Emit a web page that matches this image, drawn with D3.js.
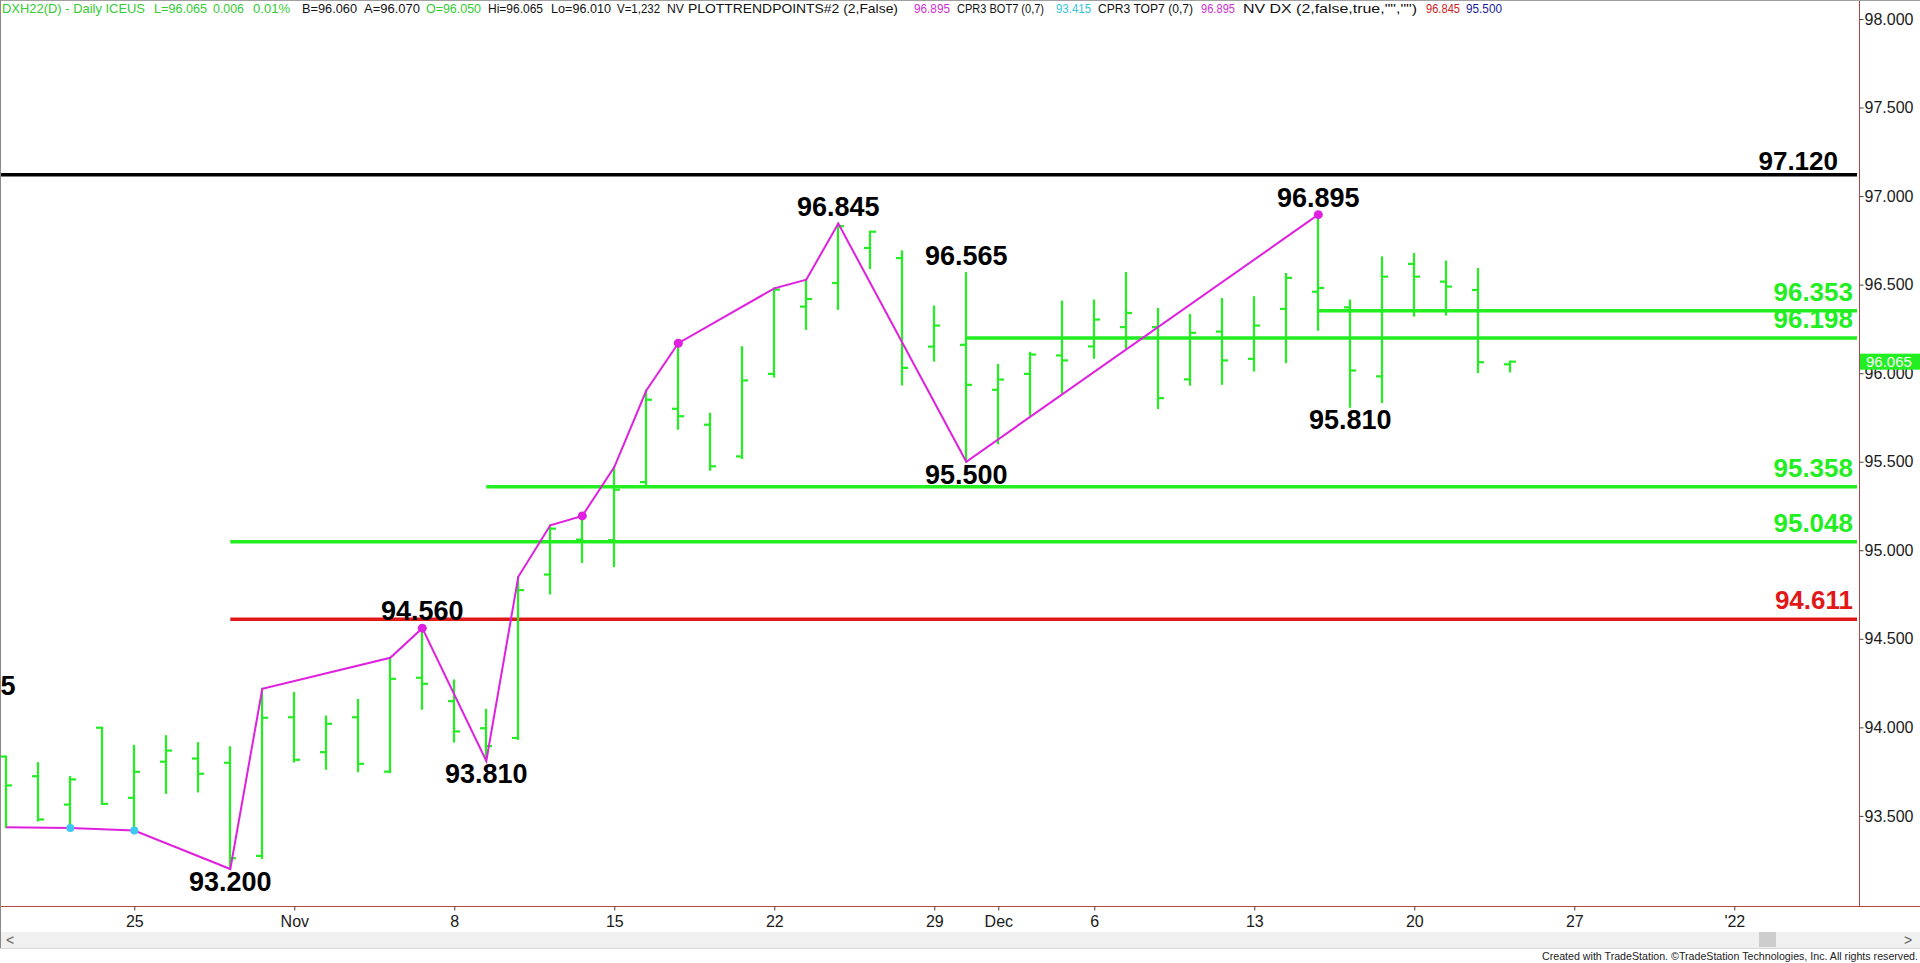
<!DOCTYPE html>
<html><head><meta charset="utf-8">
<script src="https://cdn.jsdelivr.net/npm/d3@7"></script>
<style>
html,body{margin:0;padding:0;background:#fff;overflow:hidden;}
svg{display:block;font-family:"Liberation Sans",Arial,sans-serif;}
</style></head><body>
<svg id="chart" width="1920" height="963"></svg>
<script>
// ---------- DATA ----------
const barDates = [
 "2021-10-19","2021-10-20","2021-10-21","2021-10-22",
 "2021-10-25","2021-10-26","2021-10-27","2021-10-28","2021-10-29",
 "2021-11-01","2021-11-02","2021-11-03","2021-11-04","2021-11-05",
 "2021-11-08","2021-11-09","2021-11-10","2021-11-11","2021-11-12",
 "2021-11-15","2021-11-16","2021-11-17","2021-11-18","2021-11-19",
 "2021-11-22","2021-11-23","2021-11-24","2021-11-25","2021-11-26",
 "2021-11-29","2021-11-30","2021-12-01","2021-12-02","2021-12-03",
 "2021-12-06","2021-12-07","2021-12-08","2021-12-09","2021-12-10",
 "2021-12-13","2021-12-14","2021-12-15","2021-12-16","2021-12-17",
 "2021-12-20","2021-12-21","2021-12-22","2021-12-23"];
const opens = [
 93.835,93.724,93.564,93.998,
 93.602,93.806,93.824,93.800,93.274,
 94.057,93.860,94.057,93.750,94.280,
 94.148,93.995,93.940,94.863,95.060,
 95.057,95.385,95.799,95.709,95.530,
 95.996,96.376,96.509,96.707,96.650,
 96.150,96.160,95.906,95.996,96.100,
 96.151,96.260,96.260,95.965,96.235,
 96.081,96.363,96.460,96.372,95.982,
 96.617,96.517,96.470,96.050];
const highs = [
 93.835,93.798,93.719,93.998,
 93.896,93.950,93.911,93.888,94.218,
 94.195,94.061,94.155,94.393,94.560,
 94.265,94.099,94.850,95.141,95.194,
 95.470,95.902,96.169,95.771,96.147,
 96.479,96.528,96.845,96.799,96.688,
 96.376,96.565,96.047,96.115,96.404,
 96.410,96.566,96.363,96.329,96.419,
 96.429,96.560,96.895,96.410,96.654,
 96.673,96.630,96.588,96.065];
const lows = [
 93.436,93.474,93.431,93.568,
 93.417,93.630,93.638,93.200,93.262,
 93.807,93.766,93.752,93.747,94.105,
 93.920,93.810,93.935,94.756,94.934,
 94.910,95.367,95.686,95.455,95.521,
 95.981,96.250,96.363,96.594,95.936,
 96.071,95.500,95.605,95.765,95.890,
 96.087,96.143,95.803,95.935,95.940,
 96.015,96.062,96.245,95.810,95.837,
 96.325,96.331,96.006,96.010];
const closes = [
 93.672,93.480,93.706,93.568,
 93.749,93.869,93.738,93.261,94.054,
 93.817,94.020,93.794,94.274,94.246,
 93.977,93.894,94.775,95.122,95.050,
 95.342,95.850,95.757,95.474,95.959,
 96.472,96.419,96.830,96.799,96.030,
 96.269,95.934,95.964,96.105,96.072,
 96.303,96.340,95.859,96.228,96.072,
 96.269,96.538,96.481,96.015,96.545,
 96.545,96.489,96.062,96.065];

// trend-point path (PLOTTRENDPOINTS)
const trendDates = ["2021-10-19","2021-10-21","2021-10-25","2021-10-28","2021-10-29",
 "2021-11-04","2021-11-05","2021-11-09","2021-11-10","2021-11-11","2021-11-12",
 "2021-11-15","2021-11-16","2021-11-17","2021-11-22","2021-11-23","2021-11-24",
 "2021-11-30","2021-12-15"];
const trendKinds = ["L","L","L","L","H","H","H","L","H","H","H","H","H","H","H","H","H","L","H"];
const magentaDotDates = ["2021-11-05","2021-11-12","2021-11-17","2021-12-15"];
const cyanDotDates = ["2021-10-21","2021-10-25"];

// swing labels
const labelDates  = ["2021-10-18","2021-10-28","2021-11-05","2021-11-09","2021-11-24","2021-11-30","2021-11-30","2021-12-15","2021-12-16"];
const labelKinds  = ["H","L","H","L","H","H","L","H","L"];
const labelValues = [94.135,93.200,94.560,93.810,96.845,96.565,95.500,96.895,95.810];

// horizontal levels
const levelValues = [97.120,96.353,96.198,95.358,95.048,94.611];
const levelStarts = [null,"2021-12-15","2021-11-30","2021-11-09","2021-10-28","2021-10-28"];

// axes
const yTicks = [93.5,94.0,94.5,95.0,95.5,96.0,96.5,97.0,97.5,98.0];
const tickDates  = ["2021-10-25","2021-11-01","2021-11-08","2021-11-15","2021-11-22","2021-11-29","2021-12-01","2021-12-06","2021-12-13","2021-12-20","2021-12-27","2022-01-03"];
const tickLabels = ["25","Nov","8","15","22","29","Dec","6","13","20","27","'22"];
const lastPrice = 96.065;

// header
const headerTexts = ["DXH22(D) - Daily ICEUS","L=96.065","0.006","0.01%","B=96.060","A=96.070","O=96.050",
 "Hi=96.065","Lo=96.010","V=1,232","NV","PLOTTRENDPOINTS#2 (2,False)","96.895","CPR3 BOT7 (0,7)","93.415",
 "CPR3 TOP7 (0,7)","96.895","NV DX (2,false,true,\"\",\"\")","96.845","95.500"];

// ---------- STYLE / LAYOUT ----------
const GREEN="#22ee22", RED="#e01818", MAG="#e020e0", CYAN="#3cc8f0";
const levelColors = ["#000000",GREEN,GREEN,GREEN,GREEN,RED];
const headerColors = ["#33cc33","#33cc33","#33cc33","#33cc33","#111","#111","#33cc33","#111","#111","#111","#111","#111",
 "#d030d0","#111","#30c8d8","#111","#d030d0","#111","#d02020","#1a1a9a"];
const headerX =   [2,154,213,253,302,364,426,488,551,617,667,688,914,957,1056,1098,1201,1243,1426,1466];
const headerEnd = [145,207,244,290,357,420,481,543,611,660,684,898,950,1044,1091,1193,1235,1417,1460,1502];

const fmt = d3.format(".3f");
const svg = d3.select("#chart");
const W=1920, H=963, plotR=1858, plotB=907, axisX=1859.5;

// scales
const dayKey = d3.timeFormat("%Y-%m-%d");
const allDays = d3.timeDay.range(new Date(2021,9,18), new Date(2022,0,8))
  .filter(d => d.getDay()!==0 && d.getDay()!==6).map(dayKey);
const x0 = -25.7, step = 32;
const x = d3.scalePoint().domain(allDays).range([x0, x0 + step*(allDays.length-1)]);
const y = d3.scaleLinear().domain([93.5,98]).range([815.9,19]);

const bars = barDates.map((d,i)=>({d,o:opens[i],h:highs[i],l:lows[i],c:closes[i]}));
const byDate = new Map(bars.map(b=>[b.d,b]));
const valOf = (d,k)=> k==="H" ? byDate.get(d).h : byDate.get(d).l;

// frame
svg.append("rect").attr("width",W).attr("height",H).attr("fill","#fff");
svg.append("defs").append("clipPath").attr("id","plotclip")
  .append("rect").attr("x",0).attr("y",0).attr("width",plotR).attr("height",plotB);
const plot = svg.append("g").attr("clip-path","url(#plotclip)");

// levels
levelValues.forEach((v,i)=>{
  const xs = levelStarts[i]===null ? 0 : x(levelStarts[i]);
  plot.append("line").attr("x1",xs).attr("x2",1857).attr("y1",y(v)).attr("y2",y(v))
    .attr("stroke",levelColors[i]).attr("stroke-width",3.5);
});

// OHLC bars
const bg = plot.append("g").attr("stroke",GREEN).attr("stroke-width",2.2);
bars.forEach(b=>{
  const cx = Math.round(x(b.d));
  bg.append("line").attr("x1",cx).attr("x2",cx).attr("y1",y(b.h)-1).attr("y2",y(b.l)+1);
  bg.append("line").attr("x1",cx-6).attr("x2",cx).attr("y1",y(b.o)).attr("y2",y(b.o));
  bg.append("line").attr("x1",cx).attr("x2",cx+6).attr("y1",y(b.c)).attr("y2",y(b.c));
});

// trend path
const tp = trendDates.map((d,i)=>[x(d), y(valOf(d,trendKinds[i]))]);
plot.append("path").attr("d",d3.line()(tp)).attr("fill","none")
  .attr("stroke",MAG).attr("stroke-width",2);
plot.selectAll(".md").data(magentaDotDates).join("circle")
  .attr("cx",d=>x(d)).attr("cy",d=>y(byDate.get(d).h)).attr("r",4.5).attr("fill",MAG);
plot.selectAll(".cd").data(cyanDotDates).join("circle")
  .attr("cx",d=>x(d)).attr("cy",d=>y(byDate.get(d).l)).attr("r",4).attr("fill",CYAN);

// swing labels
labelDates.forEach((d,i)=>{
  const v = labelValues[i];
  plot.append("text").attr("x",x(d))
    .attr("y", labelKinds[i]==="H" ? y(v)-8 : y(v)+22)
    .attr("text-anchor","middle").attr("font-size",27).attr("font-weight","bold")
    .attr("fill","#000").text(fmt(v));
});

// level labels
levelValues.forEach((v,i)=>{
  plot.append("text").attr("x", i===0 ? 1838 : 1853)
    .attr("y", i===0 ? y(v)-5 : y(v)-10)
    .attr("text-anchor","end").attr("font-size",26).attr("font-weight","bold")
    .attr("fill",levelColors[i]).text(fmt(v));
});

// axis lines
const AX="#b04848";
svg.append("line").attr("x1",axisX).attr("x2",axisX).attr("y1",0).attr("y2",plotB).attr("stroke",AX).attr("stroke-width",1);
svg.append("line").attr("x1",0).attr("x2",W).attr("y1",plotB-0.5).attr("y2",plotB-0.5).attr("stroke",AX).attr("stroke-width",1);

// right axis
const ya = svg.append("g").attr("transform",`translate(${axisX},0)`)
  .call(d3.axisRight(y).tickValues(yTicks).tickFormat(fmt).tickSize(4).tickPadding(1));
ya.select(".domain").remove();
ya.selectAll("line").attr("stroke","#444");
ya.selectAll("text").attr("font-size",16).attr("fill","#1a1a1a").attr("font-family","Liberation Sans, Arial, sans-serif");

// bottom axis
const xa = svg.append("g").attr("transform",`translate(0,${plotB-0.5})`)
  .call(d3.axisBottom(x).tickValues(tickDates).tickFormat((d,i)=>tickLabels[i]).tickSize(4).tickPadding(5));
xa.select(".domain").remove();
xa.selectAll("line").attr("stroke","#444");
xa.selectAll("text").attr("font-size",16).attr("fill","#1a1a1a").attr("font-family","Liberation Sans, Arial, sans-serif");

// last price marker
svg.append("rect").attr("x",axisX+0.5).attr("y",y(lastPrice)-8).attr("width",W-axisX).attr("height",16).attr("fill",GREEN);
svg.append("text").attr("x",1866).attr("y",y(lastPrice)+5.5).attr("font-size",15).attr("fill","#fff").text(fmt(lastPrice));

// header
headerTexts.forEach((t,i)=>{
  svg.append("text").attr("x",headerX[i]).attr("y",13).attr("font-size",13)
    .attr("fill",headerColors[i]).attr("textLength",headerEnd[i]-headerX[i])
    .attr("lengthAdjust","spacingAndGlyphs").text(t);
});

// borders
svg.append("line").attr("x1",0).attr("x2",W).attr("y1",0.5).attr("y2",0.5).attr("stroke","#a0a0a0");
svg.append("line").attr("x1",0.5).attr("x2",0.5).attr("y1",0).attr("y2",948).attr("stroke","#8a8a8a");

// scrollbar
svg.append("rect").attr("x",1).attr("y",932).attr("width",W-1).attr("height",16).attr("fill","#f0f0f0");
svg.append("line").attr("x1",0).attr("x2",W).attr("y1",948.5).attr("y2",948.5).attr("stroke","#d8d8d8");
svg.append("rect").attr("x",1759).attr("y",932).attr("width",17).attr("height",15).attr("fill","#cdcdcd");
svg.append("text").attr("x",6).attr("y",945).attr("font-size",14).attr("fill","#606060").text("<");
svg.append("text").attr("x",1904).attr("y",945).attr("font-size",14).attr("fill","#606060").text(">");

// credit
svg.append("text").attr("x",1542).attr("y",959.5).attr("font-size",11.5).attr("fill","#222")
  .attr("textLength",376).attr("lengthAdjust","spacingAndGlyphs")
  .text("Created with TradeStation. \u00A9TradeStation Technologies, Inc. All rights reserved.");
</script>
</body></html>
